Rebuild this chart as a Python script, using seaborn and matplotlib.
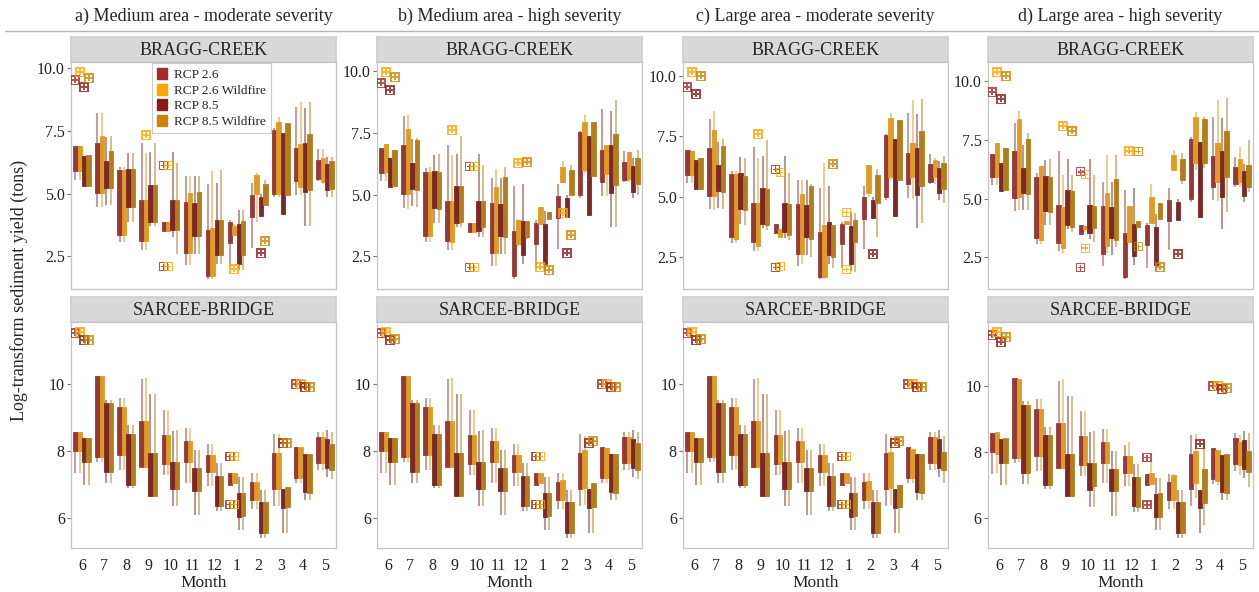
import matplotlib
matplotlib.use("Agg")
import matplotlib.pyplot as plt
from matplotlib.patches import Patch
from matplotlib.lines import Line2D
import pandas as pd
import seaborn as sns

# ---------------------------------------------------------------- data
MONTHS = ["6", "7", "8", "9", "10", "11", "12", "1", "2", "3", "4", "5"]
SCENARIOS = ["RCP 2.6", "RCP 2.6 Wildfire", "RCP 8.5", "RCP 8.5 Wildfire"]
COLORS = ["#A52A2A", "#FFA500", "#8B1A1A", "#CD8500"]
STATIONS = ["BRAGG-CREEK", "SARCEE-BRIDGE"]
COLUMN_TITLES = [
    "a) Medium area - moderate severity",
    "b) Medium area - high severity",
    "c) Large area - moderate severity",
    "d) Large area - high severity",
]
Y_TICKS = {"BRAGG-CREEK": [2.5, 5.0, 7.5, 10.0], "SARCEE-BRIDGE": [6, 8, 10]}
Y_TICK_LABELS = {"BRAGG-CREEK": ["2.5", "5.0", "7.5", "10.0"],
                 "SARCEE-BRIDGE": ["6", "8", "10"]}

# each box: (lower whisker, first quartile, third quartile, upper whisker)
BRAGG_RCP26 = [(5.56, 5.90, 6.91, 6.91), (4.47, 5.04, 7.00, 8.20), (3.07, 3.33, 5.93, 6.07),
               (2.76, 3.11, 4.73, 7.03), (3.49, 3.49, 3.87, 3.87), (2.13, 2.64, 4.67, 5.69),
               (1.60, 1.69, 3.53, 5.37), (2.05, 3.02, 3.86, 3.96), (2.81, 4.05, 4.96, 5.43),
               (4.87, 5.00, 7.53, 7.60), (4.93, 5.50, 6.80, 8.47), (5.50, 5.60, 6.33, 6.76)]
BRAGG_RCP85 = [(5.32, 5.32, 6.50, 6.50), (4.53, 5.23, 6.29, 7.27), (3.87, 4.47, 5.96, 6.63),
               (3.69, 3.87, 5.36, 6.67), (3.27, 3.53, 4.73, 6.67), (2.60, 3.31, 4.63, 5.69),
               (2.20, 2.56, 3.93, 5.43), (1.93, 2.20, 3.80, 4.36), (4.08, 4.10, 4.86, 5.00),
               (4.20, 4.20, 7.40, 7.40), (3.69, 5.06, 7.00, 8.40), (4.87, 5.13, 6.17, 6.47)]

BRAGG_RCP26_FIRE_A = [(5.56, 5.90, 6.90, 6.90), (4.47, 5.04, 7.28, 8.20), (3.07, 3.33, 5.93, 6.07),
                      (2.76, 3.11, 4.73, 6.60), (3.49, 3.49, 3.87, 3.87), (2.13, 2.64, 5.03, 5.70),
                      (1.60, 1.69, 3.63, 5.90), (3.33, 3.33, 3.69, 3.80), (3.86, 5.00, 5.73, 5.80),
                      (4.87, 5.00, 7.87, 8.04), (4.93, 5.27, 6.97, 8.67), (5.40, 5.47, 6.40, 6.76)]
BRAGG_RCP26_FIRE_B = [(5.56, 5.92, 7.04, 7.04), (4.43, 5.04, 7.65, 8.23), (3.07, 3.32, 5.92, 6.13),
                      (2.76, 3.07, 4.74, 6.60), (3.48, 3.48, 3.85, 3.85), (2.12, 2.66, 5.31, 6.06),
                      (2.90, 3.00, 3.98, 4.00), (3.82, 3.82, 4.50, 4.50), (5.52, 5.52, 6.13, 6.36),
                      (5.90, 6.00, 7.96, 8.23), (4.93, 5.86, 7.00, 7.00), (5.50, 5.65, 6.74, 6.74)]
BRAGG_RCP26_FIRE_C = [(5.56, 5.89, 6.90, 6.90), (4.43, 5.03, 7.76, 8.55), (3.07, 3.26, 5.93, 6.07),
                      (2.76, 2.95, 4.74, 6.60), (3.33, 3.33, 3.64, 3.64), (2.20, 2.61, 5.10, 5.68),
                      (1.60, 1.67, 3.82, 6.38), (3.88, 3.88, 3.98, 3.98), (5.00, 5.13, 6.30, 6.30),
                      (5.70, 5.82, 8.24, 8.45), (4.90, 5.80, 7.23, 9.00), (5.50, 5.82, 6.51, 6.60)]
BRAGG_RCP26_FIRE_D = [(5.56, 5.92, 7.34, 7.34), (4.50, 5.06, 8.36, 8.72), (3.07, 3.24, 6.37, 6.40),
                      (2.70, 2.90, 4.64, 6.00), (3.60, 3.70, 3.85, 3.85), (2.70, 3.00, 5.23, 6.84),
                      (3.14, 3.14, 4.67, 4.70), (3.95, 3.95, 5.06, 5.63), (6.20, 6.20, 6.84, 7.08),
                      (6.20, 6.50, 8.45, 8.69), (4.90, 5.70, 7.37, 9.19), (5.50, 5.70, 6.70, 7.20)]

BRAGG_RCP85_FIRE_A = [(5.32, 5.32, 6.53, 6.53), (4.53, 5.23, 6.69, 7.30), (3.87, 4.47, 5.96, 6.63),
                      (3.69, 3.87, 5.36, 7.00), (2.60, 3.53, 4.73, 6.20), (2.60, 3.31, 5.07, 5.69),
                      (2.20, 2.56, 3.93, 5.93), (1.93, 2.53, 3.90, 4.36), (4.53, 4.53, 5.40, 5.53),
                      (4.93, 4.93, 7.80, 7.80), (3.69, 5.13, 7.36, 8.67), (4.87, 5.20, 6.30, 6.47)]
BRAGG_RCP85_FIRE_B = [(5.34, 5.34, 6.80, 6.80), (4.50, 5.20, 7.21, 7.28), (3.85, 4.43, 5.92, 6.67),
                      (3.71, 3.89, 5.35, 7.38), (3.27, 3.71, 4.74, 6.20), (2.60, 3.27, 5.72, 6.13),
                      (3.20, 3.30, 3.93, 3.93), (4.02, 4.02, 4.32, 4.32), (4.97, 4.97, 6.02, 6.20),
                      (5.75, 5.75, 7.96, 7.96), (3.71, 5.38, 7.45, 8.85), (4.97, 5.45, 6.50, 6.83)]
BRAGG_RCP85_FIRE_C = [(5.30, 5.30, 6.58, 6.58), (4.50, 5.20, 7.10, 7.37), (3.82, 4.44, 5.86, 6.58),
                      (3.60, 3.82, 5.30, 7.34), (3.20, 3.40, 4.69, 5.96), (2.50, 3.26, 5.44, 5.52),
                      (2.06, 2.48, 3.82, 3.82), (1.88, 3.10, 4.02, 4.33), (3.33, 4.74, 5.89, 6.13),
                      (5.68, 5.68, 8.17, 8.17), (3.89, 5.44, 7.72, 9.03), (4.75, 5.30, 6.38, 6.68)]
BRAGG_RCP85_FIRE_D = [(5.38, 5.38, 7.13, 7.13), (4.50, 5.18, 7.51, 7.80), (3.86, 4.42, 5.92, 6.66),
                      (3.60, 3.81, 5.32, 6.00), (3.17, 3.76, 4.67, 5.99), (2.96, 3.24, 5.85, 6.84),
                      (3.78, 3.78, 4.04, 4.04), (4.14, 4.14, 4.81, 4.81), (5.60, 5.78, 6.70, 6.94),
                      (6.30, 6.49, 8.36, 8.45), (4.42, 5.92, 7.87, 9.26), (5.30, 5.49, 6.42, 7.48)]

SARCEE_RCP26 = [(7.33, 8.00, 8.57, 8.57), (7.68, 7.83, 10.23, 10.23), (7.43, 7.88, 9.31, 9.59),
                (7.51, 7.51, 8.89, 10.15), (7.28, 7.60, 8.49, 9.23), (7.06, 7.68, 8.30, 8.70),
                (6.96, 7.36, 7.88, 8.22), (7.00, 7.00, 7.35, 7.35), (6.28, 6.54, 7.09, 7.33),
                (6.37, 6.87, 7.93, 8.50), (7.04, 7.19, 8.12, 8.12), (7.43, 7.65, 8.42, 8.57)]
SARCEE_RCP85 = [(6.99, 7.66, 8.39, 8.39), (7.04, 7.38, 9.43, 9.53), (6.89, 6.99, 8.50, 8.77),
                (6.66, 6.66, 7.95, 9.70), (6.35, 6.86, 7.66, 8.60), (6.08, 6.81, 7.48, 8.04),
                (6.20, 6.37, 7.26, 7.63), (5.65, 6.03, 6.74, 7.21), (5.41, 5.56, 6.49, 6.84),
                (5.56, 6.30, 6.86, 6.86), (6.54, 6.79, 7.91, 7.91), (7.21, 7.48, 8.35, 8.64)]

SARCEE_RCP26_FIRE_A = [(7.33, 8.00, 8.57, 8.57), (7.68, 7.83, 10.23, 10.23), (7.43, 7.88, 9.31, 9.59),
                       (7.51, 7.51, 8.89, 10.18), (7.28, 7.60, 8.49, 9.23), (7.06, 7.68, 8.30, 8.70),
                       (6.96, 7.36, 7.88, 8.22), (7.04, 7.04, 7.33, 7.33), (6.28, 6.54, 7.09, 7.33),
                       (6.37, 6.87, 7.93, 8.50), (7.04, 7.19, 8.12, 8.12), (7.43, 7.65, 8.42, 8.57)]
SARCEE_RCP26_FIRE_B = [(7.33, 8.00, 8.57, 8.57), (7.68, 7.83, 10.23, 10.23), (7.43, 7.88, 9.31, 9.59),
                       (7.51, 7.51, 8.89, 10.18), (7.28, 7.60, 8.49, 9.23), (7.06, 7.68, 8.30, 8.70),
                       (6.96, 7.36, 7.88, 8.22), (7.04, 7.04, 7.33, 7.33), (6.28, 6.54, 7.13, 7.33),
                       (6.40, 6.90, 8.02, 8.45), (7.04, 7.19, 8.08, 8.08), (7.43, 7.65, 8.42, 8.57)]
SARCEE_RCP26_FIRE_C = [(7.33, 8.00, 8.57, 8.57), (7.68, 7.83, 10.23, 10.23), (7.43, 7.88, 9.31, 9.59),
                       (7.51, 7.51, 8.89, 10.18), (7.28, 7.60, 8.49, 9.23), (7.06, 7.68, 8.30, 8.70),
                       (6.96, 7.36, 7.88, 8.22), (7.04, 7.04, 7.33, 7.33), (6.28, 6.54, 7.12, 7.33),
                       (6.40, 6.90, 7.98, 8.45), (7.04, 7.19, 8.05, 8.05), (7.43, 7.65, 8.42, 8.57)]
SARCEE_RCP26_FIRE_D = [(7.37, 7.95, 8.60, 8.60), (7.70, 7.83, 10.20, 10.20), (7.43, 7.88, 9.31, 9.59),
                       (7.51, 7.51, 8.89, 10.20), (7.28, 7.60, 8.49, 9.23), (7.06, 7.68, 8.30, 8.70),
                       (6.96, 7.36, 7.88, 8.30), (7.03, 7.03, 7.37, 7.70), (6.28, 6.55, 7.30, 7.33),
                       (6.60, 7.05, 8.03, 8.55), (7.00, 7.13, 8.05, 8.05), (7.30, 7.60, 8.30, 8.50)]

SARCEE_RCP85_FIRE_A = [(6.99, 7.66, 8.39, 8.39), (7.04, 7.38, 9.43, 9.53), (6.89, 6.99, 8.50, 8.77),
                       (6.66, 6.66, 7.95, 9.70), (6.35, 6.86, 7.66, 8.64), (6.08, 6.81, 7.48, 8.04),
                       (6.20, 6.37, 7.26, 7.63), (5.65, 6.05, 6.76, 7.21), (5.41, 5.56, 6.49, 6.84),
                       (5.56, 6.33, 6.92, 6.92), (6.54, 6.76, 7.91, 7.91), (7.16, 7.43, 8.22, 8.57)]
SARCEE_RCP85_FIRE_B = [(6.99, 7.66, 8.39, 8.39), (7.04, 7.38, 9.43, 9.53), (6.89, 6.99, 8.50, 8.77),
                       (6.66, 6.66, 7.95, 9.70), (6.35, 6.86, 7.66, 8.64), (6.08, 6.81, 7.48, 8.04),
                       (6.20, 6.37, 7.26, 7.63), (5.65, 6.05, 6.76, 7.21), (5.41, 5.56, 6.49, 6.84),
                       (5.56, 6.33, 7.05, 7.05), (6.54, 6.76, 7.91, 7.91), (7.16, 7.43, 8.25, 8.57)]
SARCEE_RCP85_FIRE_C = [(6.99, 7.66, 8.39, 8.39), (7.04, 7.38, 9.43, 9.53), (6.89, 6.99, 8.50, 8.77),
                       (6.66, 6.66, 7.95, 9.70), (6.35, 6.86, 7.66, 8.64), (6.08, 6.81, 7.48, 8.04),
                       (6.20, 6.37, 7.26, 7.63), (5.65, 6.05, 6.76, 7.21), (5.41, 5.56, 6.49, 6.84),
                       (5.56, 6.33, 7.00, 7.00), (6.54, 6.76, 7.91, 7.91), (7.05, 7.43, 7.98, 8.45)]
SARCEE_RCP85_FIRE_D = [(6.99, 7.66, 8.42, 8.42), (7.04, 7.38, 9.43, 9.53), (6.89, 6.99, 8.50, 8.77),
                       (6.66, 6.66, 7.95, 9.70), (6.35, 6.97, 7.66, 8.64), (6.08, 6.81, 7.48, 8.04),
                       (6.20, 6.33, 7.26, 7.63), (5.65, 6.03, 6.77, 7.21), (5.41, 5.56, 6.49, 6.84),
                       (5.80, 6.47, 7.48, 8.40), (6.55, 6.77, 7.95, 7.95), (6.95, 7.40, 8.02, 8.57)]

# outliers: (month, value)
BRAGG_OUT_RCP26 = [("6", 9.53), ("10", 6.13), ("10", 2.07)]
BRAGG_OUT_RCP85 = [("6", 9.24), ("2", 2.64)]
BRAGG_OUT_RCP26_FIRE_A = [("6", 9.84), ("9", 7.33), ("10", 6.13), ("10", 2.07), ("1", 1.97)]
BRAGG_OUT_RCP26_FIRE_B = [("6", 9.96), ("9", 7.62), ("10", 6.13), ("10", 2.05), ("12", 6.30),
                          ("1", 2.08), ("2", 4.25)]
BRAGG_OUT_RCP26_FIRE_C = [("6", 10.14), ("9", 7.59), ("10", 5.99), ("10", 2.12), ("1", 4.33), ("1", 1.98)]
BRAGG_OUT_RCP26_FIRE_D = [("6", 10.36), ("9", 8.09), ("10", 6.02), ("10", 2.90), ("12", 7.01)]
BRAGG_OUT_RCP85_FIRE_A = [("6", 9.63), ("2", 3.10)]
BRAGG_OUT_RCP85_FIRE_B = [("6", 9.76), ("12", 6.33), ("1", 1.94), ("2", 3.38)]
BRAGG_OUT_RCP85_FIRE_C = [("6", 9.97), ("12", 6.33)]
BRAGG_OUT_RCP85_FIRE_D = [("6", 10.21), ("9", 7.87), ("12", 7.01), ("12", 2.96), ("1", 2.10)]

SARCEE_OUT_RCP26 = [("6", 11.53), ("1", 7.83), ("1", 6.40), ("4", 10.00)]
SARCEE_OUT_RCP85 = [("6", 11.33), ("3", 8.25), ("4", 9.92)]
SARCEE_OUT_RCP26_FIRE_A = [("6", 11.55), ("1", 7.83), ("1", 6.40), ("4", 10.00)]
SARCEE_OUT_RCP26_FIRE_B = [("6", 11.55), ("1", 7.83), ("1", 6.40), ("4", 10.00)]
SARCEE_OUT_RCP26_FIRE_C = [("6", 11.55), ("1", 7.83), ("1", 6.40), ("4", 10.00)]
SARCEE_OUT_RCP26_FIRE_D = [("6", 11.62), ("4", 10.00)]
SARCEE_OUT_RCP85_FIRE_A = [("6", 11.33), ("3", 8.25), ("4", 9.92)]
SARCEE_OUT_RCP85_FIRE_B = [("6", 11.35), ("3", 8.30), ("4", 9.92)]
SARCEE_OUT_RCP85_FIRE_C = [("6", 11.35), ("3", 8.30), ("4", 9.92)]
SARCEE_OUT_RCP85_FIRE_D = [("6", 11.48), ("4", 9.95)]

BOXES = {
    "BRAGG-CREEK": (BRAGG_RCP26, BRAGG_RCP85,
                    [BRAGG_RCP26_FIRE_A, BRAGG_RCP26_FIRE_B, BRAGG_RCP26_FIRE_C, BRAGG_RCP26_FIRE_D],
                    [BRAGG_RCP85_FIRE_A, BRAGG_RCP85_FIRE_B, BRAGG_RCP85_FIRE_C, BRAGG_RCP85_FIRE_D]),
    "SARCEE-BRIDGE": (SARCEE_RCP26, SARCEE_RCP85,
                      [SARCEE_RCP26_FIRE_A, SARCEE_RCP26_FIRE_B, SARCEE_RCP26_FIRE_C, SARCEE_RCP26_FIRE_D],
                      [SARCEE_RCP85_FIRE_A, SARCEE_RCP85_FIRE_B, SARCEE_RCP85_FIRE_C, SARCEE_RCP85_FIRE_D]),
}
OUTLIERS = {
    "BRAGG-CREEK": (BRAGG_OUT_RCP26, BRAGG_OUT_RCP85,
                    [BRAGG_OUT_RCP26_FIRE_A, BRAGG_OUT_RCP26_FIRE_B, BRAGG_OUT_RCP26_FIRE_C, BRAGG_OUT_RCP26_FIRE_D],
                    [BRAGG_OUT_RCP85_FIRE_A, BRAGG_OUT_RCP85_FIRE_B, BRAGG_OUT_RCP85_FIRE_C, BRAGG_OUT_RCP85_FIRE_D]),
    "SARCEE-BRIDGE": (SARCEE_OUT_RCP26, SARCEE_OUT_RCP85,
                      [SARCEE_OUT_RCP26_FIRE_A, SARCEE_OUT_RCP26_FIRE_B, SARCEE_OUT_RCP26_FIRE_C, SARCEE_OUT_RCP26_FIRE_D],
                      [SARCEE_OUT_RCP85_FIRE_A, SARCEE_OUT_RCP85_FIRE_B, SARCEE_OUT_RCP85_FIRE_C, SARCEE_OUT_RCP85_FIRE_D]),
}

# ---------------------------------------------------------------- style
sns.set_theme(style="white")
plt.rcParams["font.family"] = ["Liberation Serif", "DejaVu Serif"]
plt.rcParams["mathtext.fontset"] = "dejavusans"
PALETTE = dict(zip(SCENARIOS, COLORS))

W, H = 1259, 592
fig = plt.figure(figsize=(W / 100, H / 100), dpi=100)


def px_rect(x0, y0, w, h):
    return [x0 / W, 1 - (y0 + h) / H, w / W, h / H]


def box_frame(series):
    rows = []
    for scen, boxes in zip(SCENARIOS, series):
        for month, (lo, q1, q3, hi) in zip(MONTHS, boxes):
            # five-number summary with the median folded onto the first quartile
            for v in (lo, q1, q1, q3, hi):
                rows.append((month, scen, v))
    return pd.DataFrame(rows, columns=["Month", "Scenario", "value"])


def outlier_frame(series):
    rows = [(m, scen, v) for scen, pts in zip(SCENARIOS, series) for m, v in pts]
    return pd.DataFrame(rows, columns=["Month", "Scenario", "value"])


COL_X = [71, 377, 683, 988]
PANEL_W = 265
ROWS = {"BRAGG-CREEK": (37, 62, 227), "SARCEE-BRIDGE": (297, 322, 226)}

for ci, x0 in enumerate(COL_X):
    fig.text((x0 + PANEL_W / 2) / W, 1 - 16 / H, COLUMN_TITLES[ci],
             ha="center", va="center", fontsize=13)
    for ri, station in enumerate(STATIONS):
        strip_y, plot_y, plot_h = ROWS[station]
        # facet header
        sax = fig.add_axes(px_rect(x0, strip_y, PANEL_W, plot_y - strip_y))
        sax.set_facecolor("#D9D9D9")
        sax.set_xticks([])
        sax.set_yticks([])
        for sp in sax.spines.values():
            sp.set_color("#CFCFCF")
        sax.text(0.5, 0.47, station, ha="center", va="center", fontsize=13,
                 transform=sax.transAxes)

        ax = fig.add_axes(px_rect(x0, plot_y, PANEL_W, plot_h))
        base26, base85, fire26, fire85 = BOXES[station]
        o26, o85, of26, of85 = OUTLIERS[station]
        bdf = box_frame([base26, fire26[ci], base85, fire85[ci]])
        odf = outlier_frame([o26, of26[ci], o85, of85[ci]])

        sns.boxplot(data=bdf, x="Month", y="value", hue="Scenario", order=MONTHS,
                    hue_order=SCENARIOS, palette=PALETTE, width=0.8, gap=0,
                    whis=(0, 100), showfliers=False, showcaps=False, linewidth=1.1,
                    medianprops={"visible": False}, legend=False, ax=ax)
        for cont in ax.containers:
            col = cont.boxes[0].get_facecolor()
            for b in cont.boxes:
                b.set_edgecolor(col)
                b.set_linewidth(0.6)
            for wl in cont.whiskers:
                wl.set_color(col)
                wl.set_alpha(0.55)
                wl.set_linewidth(1.3)

        sns.stripplot(data=odf, x="Month", y="value", hue="Scenario", order=MONTHS,
                      hue_order=SCENARIOS, palette=PALETTE, dodge=True, jitter=False,
                      marker=r"$\boxplus$", size=6.5, alpha=0.8, linewidth=0,
                      legend=False, ax=ax)

        ax.set_xlim(-0.5, len(MONTHS) - 0.5)
        ax.set_yticks(Y_TICKS[station])
        ax.set_yticklabels(Y_TICK_LABELS[station])
        ax.set_ylabel("")
        ax.tick_params(axis="y", left=True, length=3, width=0.8, color="#777777",
                       labelsize=11.5, pad=1.5, labelcolor="#222222")
        ax.tick_params(axis="x", bottom=False, labelsize=11.5, pad=1.5, labelcolor="#222222")
        for sp in ax.spines.values():
            sp.set_color("#C4C4C4")
            sp.set_linewidth(0.9)
        if ri == 0:
            ax.set_xticklabels([])
            ax.set_xlabel("")
        else:
            ax.set_xlabel("Month", fontsize=12.5, labelpad=0.5, color="#222222")

        if ci == 0 and ri == 0:
            handles = [Patch(facecolor=c, edgecolor=c, label=s) for s, c in zip(SCENARIOS, COLORS)]
            leg = ax.legend(handles=handles, loc="upper center", bbox_to_anchor=(0.53, 1.0),
                            frameon=True, fancybox=False, fontsize=9.5, handlelength=0.8,
                            handleheight=0.9, handletextpad=0.5, borderpad=0.35,
                            labelspacing=0.2, borderaxespad=0.1)
            leg.get_frame().set_edgecolor("#BFBFBF")
            leg.get_frame().set_linewidth(0.8)

fig.add_artist(Line2D([5 / W, 1.0], [1 - 31 / H, 1 - 31 / H], color="#B5B5B5",
                      linewidth=1.0, transform=fig.transFigure))
fig.text(19 / W, 1 - 290 / H, "Log-transform sediment yield (tons)", rotation=90,
         ha="center", va="center", fontsize=13)

fig.savefig("out.png", dpi=100, facecolor="white")
